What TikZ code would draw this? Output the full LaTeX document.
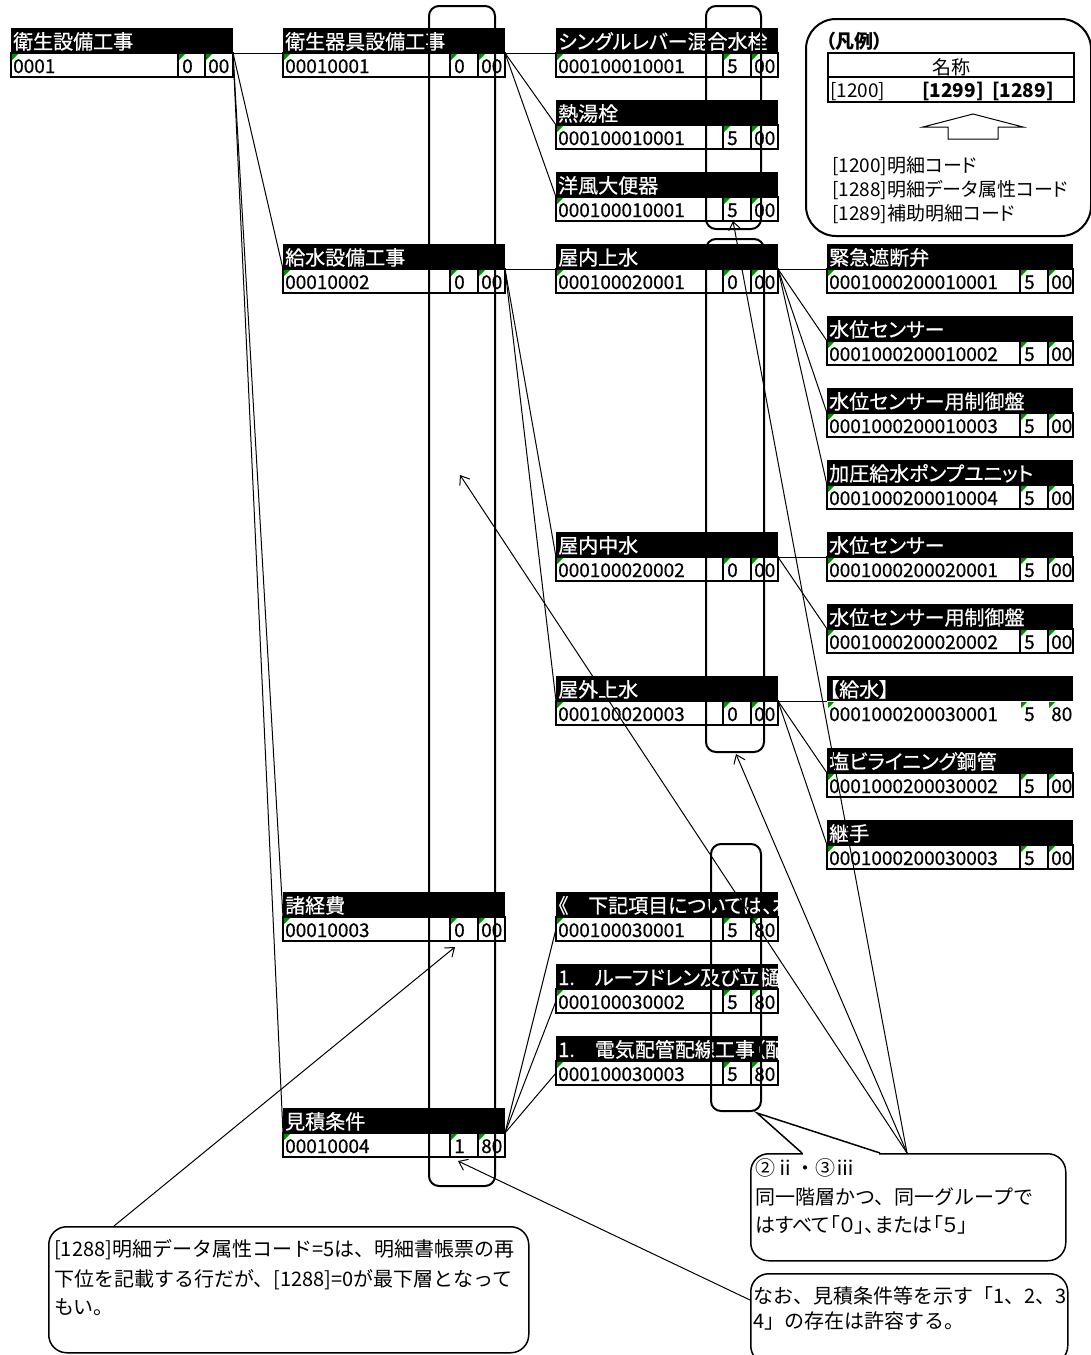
\documentclass[tikz,border=0pt]{standalone}
\usepackage{fontspec}
\setmainfont{Noto Sans CJK JP}[RawFeature={+palt}]
\newfontfamily\fullw{Noto Sans CJK JP}
\newfontfamily\hdrfont{Noto Sans CJK JP}[RawFeature={+palt},FakeBold=0.6]
\usetikzlibrary{arrows.meta}
\definecolor{xlgreen}{RGB}{0,140,0}
\newcommand\colset[1]{\ifcase#1\relax
  \def\cL{11}\def\cR{233}\def\cA{178}\def\cX{205}\or
  \def\cL{283}\def\cR{505}\def\cA{450}\def\cX{478}\or
  \def\cL{556}\def\cR{778}\def\cA{723}\def\cX{751}\or
  \def\cL{827}\def\cR{1073}\def\cA{1020}\def\cX{1048}\fi}
\newcommand\gtri[2]{\fill[xlgreen] (#1+1,#2+1) -- ++(6,0) -- ++(-6,6) -- cycle;}
\newcommand\card[8]{%
  \colset{#2}%
  \pgfmathsetmacro\cT{28+72*#3}%
  \pgfmathsetmacro\cH{\cT+25}%
  \pgfmathsetmacro\cB{\cT+49}%
  \pgfmathsetmacro\cW{\cR-\cL}%
  \node[hdr, minimum width=\cW pt, anchor=north west] (#1) at (\cL,\cT) {};%
  \begin{scope}\clip (\cL,\cT) rectangle (\cR,\cH);
    \node[hdrtext] (#1-t) at (\cL+2,\cT+21) {#4};\end{scope}%
  \node[#8, minimum width=\cW pt, anchor=north west] (#1-r) at (\cL,\cH) {};%
  \draw[#8 line] (\cA,\cH) -- (\cA,\cB) (\cX,\cH) -- (\cX,\cB);%
  \gtri{\cL}{\cH}\gtri{\cA}{\cH}\gtri{\cX}{\cH}%
  \node[rowtext] (#1-c) at (\cL+2,\cT+45) {#5};%
  \node[rowtext] (#1-a) at (\cA+4,\cT+45) {#6};%
  \node[rowtext] (#1-x) at (\cX+3,\cT+45) {#7};}
\begin{document}
\begin{tikzpicture}[x=1pt,y=-1pt,
  hdr/.style={fill=black, minimum height=25pt, inner sep=0pt, outer sep=0pt},
  rb/.style={draw, line width=1.5pt, fill=white, minimum height=24pt, inner sep=0pt, outer sep=0pt},
  rn/.style={fill=white, minimum height=24pt, inner sep=0pt, outer sep=0pt},
  rb line/.style={line width=1.5pt},
  rn line/.style={draw=none},
  hdrtext/.style={text=white, font=\hdrfont\fontsize{20}{24}\selectfont, anchor=base west, inner sep=0pt},
  rowtext/.style={font=\hdrfont\fontsize{19}{22}\selectfont, anchor=base west, inner sep=0pt},
  conn/.style={line width=1pt},
  grp/.style={draw, line width=2pt, rounded corners=10pt, inner sep=0pt},
  arr/.style={line width=1pt, -{Straight Barb[length=8pt,width=12pt]}},
  callbox/.style={draw, line width=1.5pt, fill=white, rounded corners=18pt, inner sep=0pt},
  ctext/.style={font=\fullw\fontsize{20}{24}\selectfont, anchor=base west, inner sep=0pt},
  ptext/.style={font=\fontsize{20}{24}\selectfont, anchor=base west, inner sep=0pt},
  ltext/.style={font=\fontsize{19}{22}\selectfont, anchor=base west, inner sep=0pt},
  lbold/.style={font=\fontsize{19}{22}\selectfont\bfseries, anchor=base west, inner sep=0pt}]
\useasboundingbox (0,0) rectangle (1091,1355);
\fill[white] (0,0) rectangle (1091,1355);

% cards
\card{A0}{0}{0}{衛生設備工事}{0001}{0}{00}{rb}
\card{B0}{1}{0}{衛生器具設備工事}{00010001}{0}{00}{rb}
\card{C0}{2}{0}{シングルレバー混合水栓}{000100010001}{5}{00}{rb}
\card{C1}{2}{1}{熱湯栓}{000100010001}{5}{00}{rb}
\card{C2}{2}{2}{洋風大便器}{000100010001}{5}{00}{rb}
\card{B3}{1}{3}{給水設備工事}{00010002}{0}{00}{rb}
\card{C3}{2}{3}{屋内上水}{000100020001}{0}{00}{rb}
\card{D3}{3}{3}{緊急遮断弁}{0001000200010001}{5}{00}{rb}
\card{D4}{3}{4}{水位センサー}{0001000200010002}{5}{00}{rb}
\card{D5}{3}{5}{水位センサー用制御盤}{0001000200010003}{5}{00}{rb}
\card{D6}{3}{6}{加圧給水ポンプユニット}{0001000200010004}{5}{00}{rb}
\card{C7}{2}{7}{屋内中水}{000100020002}{0}{00}{rb}
\card{D7}{3}{7}{水位センサー}{0001000200020001}{5}{00}{rb}
\card{D8}{3}{8}{水位センサー用制御盤}{0001000200020002}{5}{00}{rb}
\card{C9}{2}{9}{屋外上水}{000100020003}{0}{00}{rb}
\card{D9}{3}{9}{【給水】}{0001000200030001}{5}{80}{rn}
\card{D10}{3}{10}{塩ビライニング鋼管}{0001000200030002}{5}{00}{rb}
\card{D11}{3}{11}{継手}{0001000200030003}{5}{00}{rb}
\card{B12}{1}{12}{諸経費}{00010003}{0}{00}{rb}
\card{C12}{2}{12}{《　下記項目については、本}{000100030001}{5}{80}{rb}
\card{C13}{2}{13}{1.　ルーフドレン及び立樋}{000100030002}{5}{80}{rb}
\card{C14}{2}{14}{1.　電気配管配線工事（配}{000100030003}{5}{80}{rb}
\card{B15}{1}{15}{見積条件}{00010004}{1}{80}{rb}

% connectors
\draw[conn] (A0.south east) -- (B0.south west);
\draw[conn] (A0.south east) -- (B3.south west);
\draw[conn] (A0.south east) -- (B12.south west);
\draw[conn] (A0.south east) -- (B15.south west);
\draw[conn] (B0.south east) -- (C0.south west);
\draw[conn] (B0.south east) -- (C1.south west);
\draw[conn] (B0.south east) -- (C2.south west);
\draw[conn] (B3.south east) -- (C3.south west);
\draw[conn] (B3.south east) -- (C7.south west);
\draw[conn] (B3.south east) -- (C9.south west);
\draw[conn] (C3.south east) -- (D3.south west);
\draw[conn] (C3.south east) -- (D4.south west);
\draw[conn] (C3.south east) -- (D5.south west);
\draw[conn] (C3.south east) -- (D6.south west);
\draw[conn] (C7.south east) -- (D7.south west);
\draw[conn] (C7.south east) -- (D8.south west);
\draw[conn] (C9.south east) -- (D9.south west);
\draw[conn] (C9.south east) -- (D10.south west);
\draw[conn] (C9.south east) -- (D11.south west);
\draw[conn] (B15.south east) -- (C12-r.west);
\draw[conn] (B15.south east) -- (C13-r.west);
\draw[conn] (B15.south east) -- (C14-r.west);

% group frames
\node[grp, minimum width=66pt, minimum height=1180pt, anchor=north west] (R1) at (428,5) {};
\node[grp, minimum width=55pt, minimum height=223pt, anchor=north west] (R2) at (705,5) {};
\node[grp, minimum width=58pt, minimum height=513pt, anchor=north west] (R3) at (705,238) {};
\node[grp, minimum width=50pt, minimum height=267pt, anchor=north west] (R4) at (710,843) {};

% legend
\node[draw, line width=2pt, rounded corners=30pt, minimum width=285pt, minimum height=217pt, anchor=north west, inner sep=0pt] (leg) at (805,18) {};
\node[lbold] (legT) at (826,48) {（凡例）};
\node[draw, line width=1.5pt, minimum width=246pt, minimum height=49pt, anchor=north west, inner sep=0pt] (legtab) at (827,52) {};
\draw[line width=1.5pt] (legtab.west |- 0,77) -- (legtab.east |- 0,77);
\node[font=\fontsize{19}{22}\selectfont, anchor=base, inner sep=0pt] (legN) at (951,74) {名称};
\node[ltext] (legc1) at (830,97) {[1200]};
\node[lbold] (legc2) at (922,97) {[1299]};
\node[lbold] (legc3) at (992,97) {[1289]};
\draw[line width=1pt] (923,127) -- (973,114) -- (1023,127) -- (998,127) -- (998,139) -- (948,139) -- (948,127) -- cycle;
\node[ltext] (legl1) at (832,172) {[1200]明細コード};
\node[ltext] (legl2) at (832,196) {[1288]明細データ属性コード};
\node[ltext] (legl3) at (832,220) {[1289]補助明細コード};

% callout 2
\node[callbox, minimum width=315pt, minimum height=107pt, anchor=north west] (cb2) at (750,1153) {};
\fill[white] (803,1151) rectangle (879,1155.5);
\coordinate (tailA) at (802,1153);
\coordinate (tailP) at (757,1113);
\coordinate (tailB) at (880,1153);
\draw[line width=1.5pt] (tailA) -- (tailP) -- (tailB);
\node[ctext] (cb2a) at (755,1175) {②ⅱ・③ⅲ};
\node[ctext] (cb2b) at (755,1204) {同一階層かつ、同一グループで};
\node[ptext] (cb2c) at (755,1232) {はすべて「０」、または「５」};

% fan arrows
\coordinate (F) at (907,1153);
\coordinate (p1) at (460,475);
\coordinate (p2) at (733,221);
\coordinate (p3) at (736,754);
\draw[arr] (F) -- (p1);
\draw[arr] (F) -- (p2);
\draw[arr] (F) -- (p3);

% left callout
\node[callbox, minimum width=480pt, minimum height=126pt, anchor=north west] (cb1) at (48,1226) {};
\coordinate (s1) at (114,1226);
\coordinate (q1) at (455,947);
\draw[arr] (s1) -- (q1);
\node[ctext] (cb1a) at (54,1256) {[1288]明細データ属性コード=5は、明細書帳票の再};
\node[ctext] (cb1b) at (54,1286) {下位を記載する行だが、[1288]=0が最下層となって};
\node[ctext] (cb1c) at (54,1314) {もい。};

% bottom-right callout
\node[callbox, minimum width=317pt, minimum height=90pt, anchor=north west] (cb3) at (750,1273) {};
\coordinate (s3) at (750,1300);
\coordinate (q3) at (458,1161);
\draw[arr] (s3) -- (q3);
\begin{scope}
\clip (750,1273) rectangle (1066,1355);
\node[ctext] (cb3a) at (753,1303) {なお、見積条件等を示す「1、2、3、};
\end{scope}
\node[ctext] (cb3b) at (753,1328) {4」の存在は許容する。};
\end{tikzpicture}
\end{document}
